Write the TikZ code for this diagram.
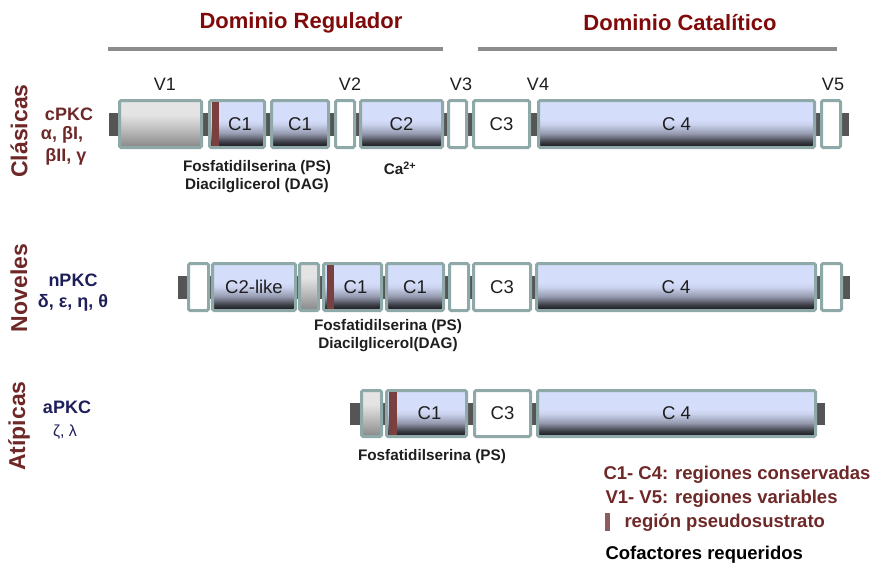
\documentclass[tikz,border=0pt]{standalone}
\usepackage{fontspec}
\setmainfont{Liberation Sans}
\definecolor{bordc}{RGB}{143,168,168}
\definecolor{stubc}{RGB}{85,85,85}
\definecolor{lav}{RGB}{212,221,250}
\definecolor{lavmid}{RGB}{150,155,175}
\definecolor{cdark}{RGB}{20,20,24}
\definecolor{pscol}{RGB}{122,63,63}
\definecolor{glight}{RGB}{228,228,228}
\definecolor{gdark}{RGB}{135,135,135}
\definecolor{titred}{RGB}{128,10,10}
\definecolor{brred}{RGB}{110,40,40}
\definecolor{navy}{RGB}{30,30,90}
\definecolor{txt}{RGB}{30,30,30}
\definecolor{hline}{RGB}{140,140,140}
\pgfdeclareverticalshading{cshade}{100bp}{color(0bp)=(cdark); color(25bp)=(cdark); color(31bp)=(cdark!70!lavmid); color(40bp)=(lavmid); color(50bp)=(lav!85!lavmid); color(55bp)=(lav); color(100bp)=(lav)}
\pgfdeclareverticalshading{gshade}{100bp}{color(0bp)=(gdark); color(25bp)=(gdark); color(45bp)=(glight!60!gdark); color(60bp)=(glight); color(100bp)=(glight)}
\newcommand\dombox[7]{%
  \pgfmathsetmacro\dw{#4-#3-3}\pgfmathsetmacro\dh{#6-#5-3}%
  \node[#2, minimum width=\dw pt, minimum height=\dh pt] (#1) at ({(#3+#4)/2},{(#5+#6)/2}) {#7};}
\newcommand\psbar[5]{\fill[pscol] (#2,#4+3) rectangle (#3,#5-3) coordinate (#1);}
\begin{document}
\begin{tikzpicture}[x=1pt,y=-1pt,
  dom/.style={draw=bordc, line width=3pt, rounded corners=1.5pt, inner sep=0pt, font=\fontsize{18.5}{21}\selectfont, text=txt},
  cdom/.style={dom, shading=cshade},
  gdom/.style={dom, shading=gshade},
  wdom/.style={dom, fill=white},
  vlab/.style={font=\fontsize{18}{21}\selectfont, text=txt},
  cof/.style={font=\bfseries\fontsize{15.3}{18}\selectfont, text=txt},
  title/.style={font=\bfseries\fontsize{22}{26}\selectfont, text=titred},
  rowt/.style={font=\bfseries\fontsize{23}{27}\selectfont, text=brred, rotate=90},
  fam/.style={font=\bfseries\fontsize{18}{21}\selectfont},
  leg/.style={font=\bfseries\fontsize{18.5}{22}\selectfont, text=brred, anchor=west},
  stub/.style={fill=stubc}]
\useasboundingbox (0,0) rectangle (876,570);
% headers
\node[title] (treg) at (301,23) {Dominio Regulador};
\node[title] (tcat) at (680,23) {Dominio Catalítico};
\coordinate (hl1a) at (108,49); \coordinate (hl1b) at (443,49);
\coordinate (hl2a) at (478,49); \coordinate (hl2b) at (837,49);
\draw[hline, line width=4pt] (hl1a) -- (hl1b);
\draw[hline, line width=4pt] (hl2a) -- (hl2b);
% row titles
\node[rowt] (rc) at (19,131) {Clásicas};
\node[rowt] (rn) at (19,288) {Noveles};
\node[rowt] (ra) at (19,426) {Atípicas};
\node[fam, text=brred] (cpkc) at (69,114) {cPKC};
\node[fam, text=brred] (cpkc2) at (62,135) {α, βI,};
\node[fam, text=brred] (cpkc3) at (66,157) {βII, γ};
\node[fam, text=navy] (npkc) at (73,280) {nPKC};
\node[fam, text=navy] (npkc2) at (73,303) {δ, ε, η, θ};
\node[fam, text=navy] (apkc) at (67,407) {aPKC};
\node[font=\fontsize{16}{19}\selectfont, text=navy] (apkc2) at (65,432) {ζ, λ};
% ---------- row 1
\fill[stub] (109,112.5) rectangle (849,135.5);
\dombox{v1}{gdom}{118}{203}{99}{149}{}
\dombox{c1a}{cdom}{208}{266}{99}{149}{\hspace*{6pt}C1}
\psbar{ps1}{212}{219}{99}{149}
\dombox{c1b}{cdom}{270}{330}{99}{149}{C1}
\dombox{v2}{wdom}{334}{356}{99}{149}{}
\dombox{c2}{cdom}{359}{444}{99}{149}{C2}
\dombox{v3}{wdom}{447}{468}{99}{149}{}
\dombox{c3}{wdom}{472}{531}{99}{149}{C3}
\dombox{c4}{cdom}{537}{816}{99}{149}{C 4}
\dombox{v5}{wdom}{820}{842}{99}{149}{}
\node[vlab] (lv1) at (165,84) {V1};
\node[vlab] (lv2) at (350,84) {V2};
\node[vlab] (lv3) at (461,84) {V3};
\node[vlab] (lv4) at (538,84) {V4};
\node[vlab] (lv5) at (833,84) {V5};
\node[cof] (f1) at (257,168) {Fosfatidilserina (PS)};
\node[cof] (d1) at (257,186) {Diacilglicerol (DAG)};
\node[cof] (ca) at (400,168) {Ca\textsuperscript{2+}};
% ---------- row 2
\fill[stub] (178,275.5) rectangle (850,298.5);
\dombox{nv1}{wdom}{187}{210}{262}{312}{}
\dombox{nc2}{cdom}{211}{297}{262}{312}{C2-like}
\dombox{ng}{gdom}{298}{320}{262}{312}{}
\dombox{nc1a}{cdom}{322}{383}{262}{312}{\hspace*{6pt}C1}
\psbar{ps2}{327}{334}{262}{312}
\dombox{nc1b}{cdom}{385}{445}{262}{312}{C1}
\dombox{nv3}{wdom}{448}{470}{262}{312}{}
\dombox{nc3}{wdom}{472}{532}{262}{312}{C3}
\dombox{nc4}{cdom}{535}{817}{262}{312}{C 4}
\dombox{nv5}{wdom}{820}{843}{262}{312}{}
\node[cof] (f2) at (388,327) {Fosfatidilserina (PS)};
\node[cof] (d2) at (388,345) {Diacilglicerol(DAG)};
% ---------- row 3
\fill[stub] (350,402.5) rectangle (825,424.5);
\dombox{ag}{gdom}{360}{383}{389}{438}{}
\dombox{ac1}{cdom}{385}{468}{389}{438}{\hspace*{6pt}C1}
\psbar{ps3}{389}{397}{389}{438}
\dombox{ac3}{wdom}{473}{532}{389}{438}{C3}
\dombox{ac4}{cdom}{536}{817}{389}{438}{C 4}
\node[cof] (f3) at (432,457) {Fosfatidilserina (PS)};
% ---------- legend
\node[leg] (l1) at (600,475) {C1- C4: regiones conservadas};
\node[leg] (l2) at (602,499) {V1- V5: regiones variables};
\fill[pscol!85!white] (605,513) rectangle (610,531) coordinate (lbar);
\node[leg] (l3) at (621,523) {región pseudosustrato};
\node[leg, text=black] (l4) at (602,555) {Cofactores requeridos};
\end{tikzpicture}
\end{document}
